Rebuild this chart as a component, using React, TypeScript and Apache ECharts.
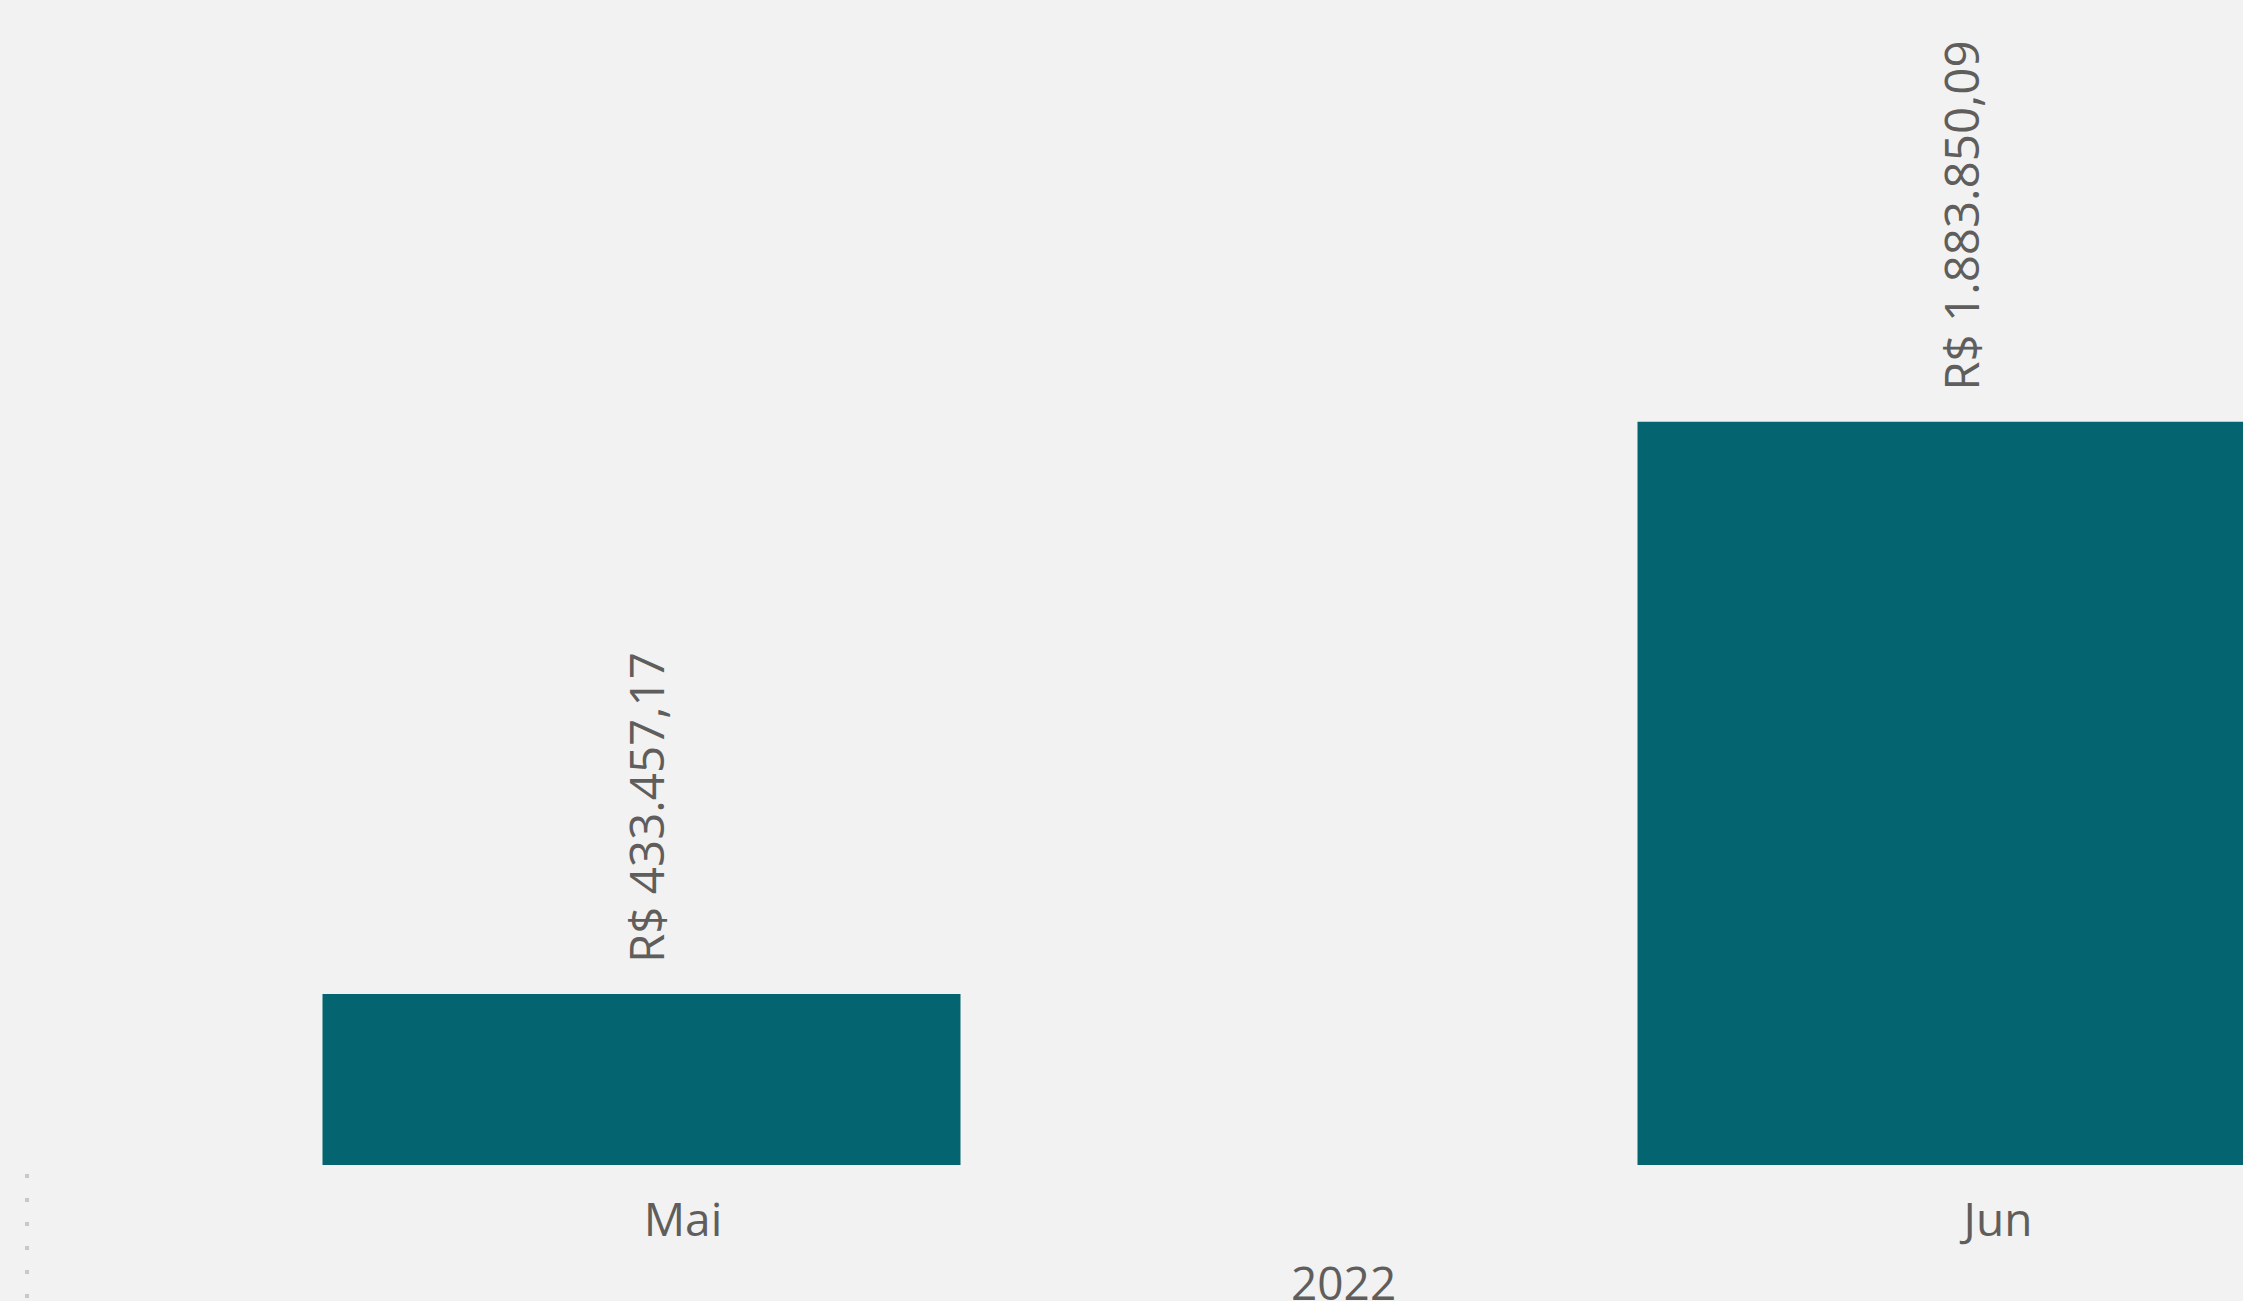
import React, { useEffect, useRef } from "react";
import * as echarts from "echarts";

const categories = ["Mai", "Jun"];
const values = [433457.17, 1883850.09];
const yearLabel = "2022";

function fmtBRL(v: number): string {
  const fixed = v.toFixed(2);
  const [intPart, dec] = fixed.split(".");
  const withDots = intPart.replace(/\B(?=(\d{3})+(?!\d))/g, ".");
  return "R$ " + withDots + "," + dec;
}

const FONT = "'Segoe UI', 'Open Sans', 'Noto Sans', sans-serif";
const TEXT = "#605e5c";
const SHIFT = 16; // inner chart div starts 16px left of the page

export default function App() {
  const ref = useRef<HTMLDivElement>(null);
  useEffect(() => {
    if (!ref.current) return;
    const chart = echarts.init(ref.current, undefined, { renderer: "svg" });
    chart.setOption({
      animation: false,
      backgroundColor: "#f2f2f2",
      grid: { left: 0, right: 0, top: 376, bottom: 136, containLabel: false },
      xAxis: {
        type: "category",
        data: categories,
        axisLine: { show: false },
        axisTick: { show: false },
        splitLine: { show: false },
        axisLabel: {
          color: TEXT,
          fontFamily: FONT,
          fontSize: 46,
          margin: 30,
          padding: [0, 0, 0, 83],
        },
      },
      yAxis: {
        type: "value",
        min: 0,
        max: 2000000,
        show: false,
        splitLine: { show: false },
      },
      series: [
        {
          type: "bar",
          data: values,
          barWidth: 638,
          itemStyle: { color: "#046570" },
          label: {
            show: true,
            position: "top",
            distance: 31,
            rotate: 90,
            align: "left",
            verticalAlign: "middle",
            offset: [0, 4],
            color: TEXT,
            fontFamily: FONT,
            fontSize: 47.5,
            formatter: (p: any) => fmtBRL(p.value),
          },
        },
      ],
      graphic: [
        {
          type: "text",
          left: 1341 - 50 + SHIFT,
          top: 1259,
          style: {
            text: yearLabel,
            fill: TEXT,
            font: `46px ${FONT}`,
          },
        },
        {
          type: "line",
          shape: { x1: 27 + SHIFT, y1: 1174, x2: 27 + SHIFT, y2: 1301 },
          style: { stroke: "#c8c8c8", lineWidth: 4, lineDash: [4, 20] },
        },
      ],
    });
    return () => chart.dispose();
  }, []);
  return (
    <div
      style={{
        position: "fixed",
        left: 0,
        top: 0,
        width: 2243,
        height: 1301,
        overflow: "hidden",
        background: "#f2f2f2",
      }}
    >
      <div
        ref={ref}
        style={{
          position: "absolute",
          left: -SHIFT,
          top: 0,
          width: 2630,
          height: 1301,
        }}
      />
    </div>
  );
}
